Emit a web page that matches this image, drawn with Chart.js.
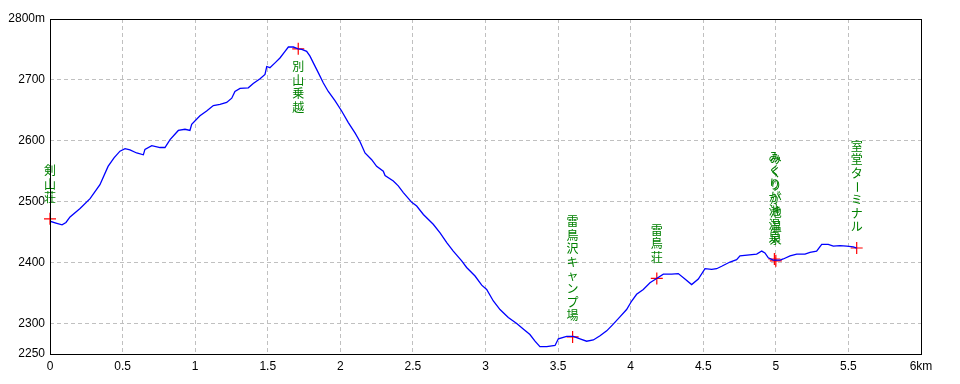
<!DOCTYPE html>
<html>
<head>
<meta charset="utf-8">
<script src="https://cdn.jsdelivr.net/npm/chart.js@4/dist/chart.umd.min.js"></script>
<style>
html,body{margin:0;padding:0;background:#fff;}
canvas{display:block;}
</style>
</head>
<body>
<canvas id="c" width="960" height="384"></canvas>
<script>
// Profile: distance (km) and elevation (m)
const distKm = [0.000,0.041,0.083,0.110,0.138,0.207,0.276,0.344,0.400,0.441,0.482,0.517,0.551,0.597,0.643,0.654,0.701,0.758,0.792,0.827,0.884,0.930,0.964,0.976,1.033,1.079,1.125,1.171,1.217,1.252,1.274,1.309,1.366,1.400,1.447,1.481,1.493,1.515,1.550,1.584,1.619,1.642,1.676,1.710,1.734,1.768,1.791,1.814,1.848,1.883,1.917,1.963,2.009,2.055,2.101,2.135,2.170,2.216,2.250,2.296,2.308,2.365,2.399,2.434,2.492,2.526,2.572,2.640,2.687,2.733,2.778,2.836,2.870,2.928,2.974,3.008,3.054,3.100,3.157,3.215,3.260,3.306,3.341,3.375,3.422,3.479,3.502,3.559,3.605,3.651,3.697,3.743,3.789,3.835,3.880,3.926,3.972,4.007,4.041,4.087,4.133,4.179,4.225,4.283,4.328,4.374,4.420,4.466,4.512,4.558,4.592,4.627,4.684,4.730,4.753,4.868,4.903,4.925,4.948,4.982,5.029,5.051,5.098,5.144,5.201,5.235,5.281,5.316,5.361,5.396,5.442,5.488,5.534,5.557];
const elevM = [2468,2465,2462,2466,2475,2489,2505,2528,2558,2572,2583,2587,2585,2580,2577,2586,2592,2589,2589,2602,2617,2619,2617,2627,2641,2649,2658,2660,2663,2670,2681,2686,2687,2694,2702,2709,2722,2720,2728,2736,2747,2754,2754,2751,2750,2747,2739,2728,2712,2695,2681,2666,2649,2630,2613,2599,2580,2569,2558,2550,2543,2534,2526,2515,2499,2493,2479,2463,2449,2433,2419,2403,2392,2378,2363,2356,2337,2323,2310,2300,2291,2282,2271,2262,2262,2264,2275,2279,2279,2275,2271,2273,2280,2288,2299,2311,2323,2337,2348,2356,2367,2374,2381,2381,2382,2373,2364,2373,2390,2389,2390,2394,2401,2405,2411,2414,2419,2416,2408,2404,2404,2406,2411,2414,2414,2417,2419,2430,2430,2427,2428,2427,2426,2424];

// Waypoints
const wpNames = ["剣山荘","別山乗越","雷鳥沢キャンプ場","雷鳥荘","みくりが池温泉","みくりが池温泉","室堂ターミナル"];
const wpKm = [0.000,1.710,3.600,4.180,4.990,5.000,5.557];
const wpElev = [2472,2751,2278,2374,2406,2403,2424];

// Axis ticks
const xTicks = [0,0.5,1,1.5,2,2.5,3,3.5,4,4.5,5,5.5,6];
const yTicks = [2250,2300,2400,2500,2600,2700,2800];

const profile = distKm.map((x,i)=>({x:x,y:elevM[i]}));
const waypoints = wpKm.map((x,i)=>({x:x,y:wpElev[i]}));

const frame = {
  id:'frame',
  afterDraw(chart){
    const {ctx, chartArea:a} = chart;
    ctx.save();
    ctx.strokeStyle = '#000';
    ctx.lineWidth = 1;
    ctx.setLineDash([]);
    ctx.strokeRect(Math.round(a.left)+0.5, Math.round(a.top)+0.5, Math.round(a.right-a.left), Math.round(a.bottom-a.top));
    ctx.restore();
  }
};

const labelsPlugin = {
  id:'wplabels',
  afterDatasetsDraw(chart){
    const {ctx, chartArea:a} = chart;
    const xs = chart.scales.x, ys = chart.scales.y;
    const lh = 13.4;
    ctx.save();
    ctx.fillStyle = '#008000';
    ctx.font = '12px "Noto Sans CJK JP"';
    ctx.textAlign = 'center';
    ctx.textBaseline = 'top';
    wpNames.forEach((name,i)=>{
      const px = xs.getPixelForValue(wpKm[i]);
      const py = ys.getPixelForValue(wpElev[i]);
      const chars = Array.from(name);
      const h = chars.length*lh;
      let y0 = py - 14 - h;
      if (y0 < a.top) y0 = py + 12;
      chars.forEach((ch,k)=>{
        const cy = y0 + k*lh;
        if (ch === 'ー') {
          ctx.save();
          ctx.translate(px, cy + lh/2);
          ctx.rotate(Math.PI/2);
          ctx.textBaseline = 'middle';
          ctx.fillText(ch, 0, 0);
          ctx.restore();
        } else {
          ctx.fillText(ch, px, cy);
        }
      });
    });
    ctx.restore();
  }
};

new Chart(document.getElementById('c'), {
  type:'line',
  data:{
    datasets:[
      {data:profile, borderColor:'#0000ff', borderWidth:1.3, pointRadius:0, tension:0, fill:false},
      {data:waypoints, showLine:false, pointStyle:'cross', pointRadius:6, borderColor:'#ff0000', borderWidth:1.2, clip:false}
    ]
  },
  options:{
    responsive:false,
    animation:false,
    events:[],
    layout:{padding:{top:19,right:39,left:0,bottom:0}},
    plugins:{legend:{display:false}, tooltip:{enabled:false}},
    scales:{
      x:{
        type:'linear', min:0, max:6,
        afterBuildTicks(s){ s.ticks = xTicks.map(v=>({value:v})); },
        afterFit(s){ s.height = 30; },
        grid:{drawTicks:false, color:(c)=> (c.tick && (c.tick.value===0||c.tick.value===6)) ? 'rgba(0,0,0,0)' : '#c0c0c0', lineWidth:1},
        border:{display:false, dash:[4,3]},
        ticks:{padding:5, color:'#000', font:{family:'"Liberation Sans"', size:12}, maxRotation:0, autoSkip:false,
          callback:(v)=> v===6 ? '6km' : String(v)}
      },
      y:{
        type:'linear', min:2250, max:2800,
        afterBuildTicks(s){ s.ticks = yTicks.map(v=>({value:v})); },
        afterFit(s){ s.width = 50; },
        grid:{drawTicks:false, color:(c)=> (c.tick && (c.tick.value===2250||c.tick.value===2800)) ? 'rgba(0,0,0,0)' : '#c0c0c0', lineWidth:1},
        border:{display:false, dash:[4,3]},
        ticks:{padding:5, color:'#000', font:{family:'"Liberation Sans"', size:12}, autoSkip:false,
          callback:(v)=> v===2800 ? '2800m' : String(v)}
      }
    }
  },
  plugins:[frame, labelsPlugin]
});
</script>
</body>
</html>
